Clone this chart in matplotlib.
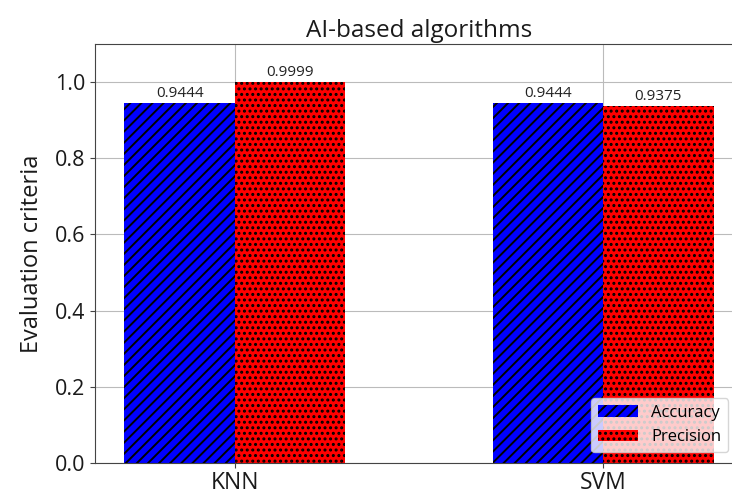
import numpy as np
import matplotlib
matplotlib.use("Agg")
import matplotlib.pyplot as plt

# values
ALGORITHMS = ["KNN", "SVM"]
ACCURACY = [0.9444, 0.9444]
PRECISION = [0.9999, 0.9375]

plt.rcParams["font.family"] = ["Open Sans", "DejaVu Sans"]
plt.rcParams["hatch.linewidth"] = 1.4

fig = plt.figure(figsize=(7.32, 4.94), dpi=100)
ax = fig.add_axes([95 / 732, 31 / 494, 648 / 732, 419 / 494])

x = np.arange(len(ALGORITHMS))
w = 0.3
b1 = ax.bar(x - w / 2, ACCURACY, w, color="#0000ff", edgecolor="black",
            linewidth=0, hatch="///", label="Accuracy", zorder=2)
b2 = ax.bar(x + w / 2, PRECISION, w, color="#ff0000", edgecolor="black",
            linewidth=0, hatch="...", label="Precision", zorder=2)

for bars, vals in ((b1, ACCURACY), (b2, PRECISION)):
    for r, v in zip(bars, vals):
        ax.annotate("%.4f" % v, (r.get_x() + r.get_width() / 2, r.get_height()),
                    textcoords="offset points", xytext=(0, 1.5),
                    ha="center", va="bottom", fontsize=11, color="#222222")

ax.set_xlim(-0.38, 1.38)
ax.set_ylim(0, 1.1)
ax.set_xticks(x)
ax.set_xticklabels(ALGORITHMS, fontsize=16.5)
ax.tick_params(axis="x", pad=2)
ax.set_yticks([0, 0.2, 0.4, 0.6, 0.8, 1.0])
ax.tick_params(axis="y", labelsize=15.5)
ax.tick_params(colors="#444444", labelcolor="#1a1a1a")
ax.set_ylabel("Evaluation criteria", fontsize=17, labelpad=8, color="#1a1a1a")
ax.set_title("AI-based algorithms", fontsize=17.5, pad=5, color="#1a1a1a")
ax.grid(True, color="#bbbbbb", linewidth=0.8, zorder=0)
ax.set_axisbelow(True)
for s in ax.spines.values():
    s.set_color("#444444")

ax.legend(loc="lower right", bbox_to_anchor=(0.977, 0.026), borderaxespad=0,
          fontsize=12, handlelength=2.4, framealpha=0.8)

fig.savefig("out.png", dpi=100)
